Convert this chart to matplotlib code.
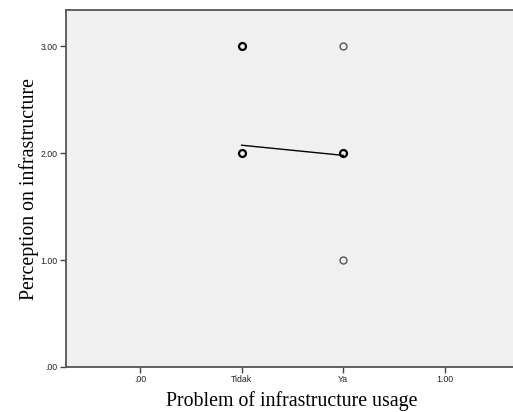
import numpy as np
import matplotlib.pyplot as plt

# categories on the x axis and observed points
x_ticklabels = [".00", "Tidak", "Ya", "1.00"]
y_ticklabels = [".00", "1.00", "2.00", "3.00"]
point_x = [1, 1, 2, 2, 2]
point_y = [3, 2, 3, 2, 1]
point_count = [3, 4, 1, 5, 1]   # overlapping cases (drawn bolder)
fit_x = [1, 2]
fit_y = [2.075, 1.98]

fig = plt.figure(figsize=(5.13, 4.12), dpi=100)
ax = fig.add_axes([66 / 513, 45 / 412, 452 / 513, 357 / 412])
ax.set_facecolor('#f0f0f0')

for x, y, n in zip(point_x, point_y, point_count):
    if n > 1:
        ax.plot(x, y, 'o', ms=5, mfc='none', mec='black', mew=1.6)
    else:
        ax.plot(x, y, 'o', ms=5, mfc='none', mec='#555555', mew=1.0)

ax.plot(fit_x, fit_y, color='black', lw=1.0)

ax.set_xlim(-0.728, 3.72)
ax.set_ylim(0, 3.34)
ax.set_xticks(range(len(x_ticklabels)))
ax.set_xticklabels(x_ticklabels, fontsize=6.3, family='Liberation Sans', color='#222222')
ax.set_yticks(range(len(y_ticklabels)))
ax.set_yticklabels(y_ticklabels, fontsize=6.3, family='Liberation Sans', color='#222222')
ax.tick_params(direction='out', length=4, width=1, color='#444444', pad=2)

for side in ['left', 'bottom', 'top']:
    ax.spines[side].set_color('#555555')
    ax.spines[side].set_linewidth(1.3)
ax.spines['right'].set_visible(False)

ax.set_xlabel('Problem of infrastructure usage', fontsize=14.3, family='Liberation Serif', labelpad=5)
ax.set_ylabel('Perception on infrastructure', fontsize=14.3, family='Liberation Serif', labelpad=1)

fig.savefig('out.png', dpi=100)
